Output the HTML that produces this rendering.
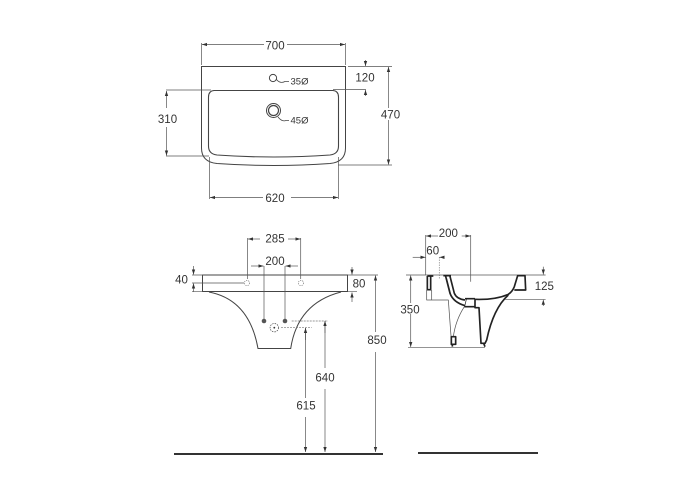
<!DOCTYPE html>
<html><head><meta charset="utf-8"><style>
html,body{margin:0;padding:0;background:#fff}
svg{display:block}
text{font-family:"Liberation Sans",sans-serif;font-size:11.5px;fill:#333;text-anchor:middle}
.s{font-size:9.5px}
</style></head><body>
<svg width="700" height="500" viewBox="0 0 700 500" xmlns="http://www.w3.org/2000/svg">
<defs>
<marker id="a" viewBox="0 0 6 6" refX="6" refY="3" markerWidth="5" markerHeight="5" orient="auto" markerUnits="userSpaceOnUse"><path d="M0 1L6 3L0 5Z" fill="#333"/></marker>
</defs>

<!-- top view -->
<g fill="none" stroke="#444" stroke-width="0.9">
<path d="M201.500 66.500H345.500V148Q345.500 162 330 163.500Q274 167.500 217 163.500Q201.500 162 201.500 148Z" stroke-width="1"/>
<path d="M214 90.500H333Q338.500 91 338.500 97V146Q338.500 154 330 155Q274 159 217 155Q208.500 154 208.500 146V97Q208.500 91 214 90.500Z" stroke-width="1.100"/>
<circle cx="273" cy="78" r="3.600" stroke-width="1"/>
<circle cx="273.500" cy="110.500" r="7" stroke-width="1"/>
<circle cx="273.500" cy="110.500" r="5" stroke-width="1.200"/>
<path d="M276.500 79.500Q280 84 285 81.500H289" stroke-width="0.800"/>
<path d="M278 117Q282 122 286 120.500H289" stroke-width="0.800"/>
</g>
<g fill="none" stroke="#555" stroke-width="0.7">
<path d="M201.500 43V65M345.500 43V65"/>
<path d="M348 66.500H392M333 89.500H366"/>
<path d="M338 165H392"/>
<path d="M166 90H211M166 156H209"/>
<path d="M209.500 157V199M338.500 157V199"/>
</g>
<g fill="none" stroke="#555" stroke-width="0.7" marker-end="url(#a)">
<path d="M264 44.500H202"/><path d="M287 44.500H345"/>
<path d="M365.500 60V66"/><path d="M365.500 96V90"/>
<path d="M388.500 108V67"/><path d="M388.500 120V164.500"/>
<path d="M166.500 108V91"/><path d="M166.500 127V155.500"/>
<path d="M263 197.500H210"/><path d="M291 197.500H338"/>
</g>
<text x="275" y="49.500">700</text>
<text x="365" y="81.500">120</text>
<text x="390.500" y="118.500">470</text>
<text x="167.500" y="123">310</text>
<text x="275" y="202">620</text>
<text class="s" x="299.500" y="84.500">35Ø</text>
<text class="s" x="299.500" y="123.500">45Ø</text>

<!-- front view -->
<g fill="none" stroke="#444" stroke-width="1">
<path d="M202.500 275H347.500V291.500H202.500Z"/>
<path d="M209 292C235 297 252 315 258 348.500H290.700C295 320 310 300 341 292"/>
</g>
<g fill="none" stroke="#777" stroke-width="0.7">
<circle cx="247" cy="283" r="2.600" stroke-dasharray="1.200 1"/>
<circle cx="301" cy="283" r="2.600" stroke-dasharray="1.200 1"/>
<circle cx="274.300" cy="327.700" r="4.200" stroke="#444" stroke-dasharray="1.500 1"/>
<path d="M291.700 321H328M281 327.700H311.700" stroke-dasharray="2 1"/>
</g>
<circle cx="264" cy="321" r="2.300" fill="#555"/>
<circle cx="285" cy="321" r="2.300" fill="#555"/>
<circle cx="274.300" cy="327.700" r="0.900" fill="#333"/>
<g fill="none" stroke="#555" stroke-width="0.7">
<path d="M247.500 238V279M300.700 238V279"/>
<path d="M264 266V319M285 266V319"/>
<path d="M192 275H203M192 283H244M192 291.700H203"/>
<path d="M348 275H378M348 291.700H357"/>
<path d="M305.500 328V398M325 321V368"/>
</g>
<g fill="none" stroke="#555" stroke-width="0.7" marker-end="url(#a)">
<path d="M260 239H248"/><path d="M288 239H300.500"/>
<path d="M251 266H263.500"/><path d="M298 266H285.500"/>
<path d="M193.500 266V274.500"/><path d="M193.500 292V283.500"/>
<path d="M352 267V274.500"/><path d="M352 302V292.500"/>
<path d="M375.500 332V275.500"/><path d="M375.500 352V452"/>
<path d="M305.500 417V452"/><path d="M325 389V452"/>
<path d="M305.500 340V328"/><path d="M325 333V321"/>
</g>
<text x="275" y="242.500">285</text>
<text x="275" y="265">200</text>
<text x="181.500" y="283.500">40</text>
<text x="359" y="287.500">80</text>
<text x="377" y="344">850</text>
<text x="325" y="381.500">640</text>
<text x="306" y="409.500">615</text>
<line x1="174" y1="454" x2="383" y2="454" stroke="#333" stroke-width="2"/>
<line x1="418" y1="453" x2="538" y2="453" stroke="#333" stroke-width="2"/>

<!-- section view -->
<g fill="none" stroke="#555" stroke-width="0.7">
<path d="M425.700 235V275M470.700 235V281.700"/>
<path d="M439.300 257V279" stroke="#888" stroke-dasharray="1.500 1"/>
<path d="M406 275H545.600"/>
<path d="M408 347.300H485"/>
<path d="M505 299.300H545.600"/>
</g>
<g fill="none" stroke="#555" stroke-width="0.7" marker-end="url(#a)">
<path d="M438 236H426"/><path d="M461.700 236H470.500"/>
<path d="M412.700 257.300H425.500"/><path d="M444 257.300H439.500"/>
<path d="M410.700 303V275.500"/><path d="M410.700 314V347"/>
<path d="M543.300 266.700V274.500"/><path d="M543.300 306V299.800"/>
</g>
<g transform="translate(425 265) scale(0.33333)" fill="none" stroke="#222" stroke-linejoin="round">
<g stroke="#555" stroke-width="2.200">
<path d="M5 75V105H70L80 240"/>
<path d="M20 75V105"/>
<path d="M118 125Q92 165 85 215"/>
<path d="M65 40L78 90"/>
</g>
<g stroke-width="5">
<path d="M7 33H25M7 33V74H17V33"/>
<path d="M55 32H78"/>
<path d="M62 34L75 85Q85 112 120 122"/>
<path d="M75 34L88 85Q95 102 120 105"/>
<path d="M120 101H150M118 125H150"/>
<path d="M150 103Q210 105 250 88Q262 80 268 65L278 32H300L302 75H268"/>
<path d="M150 103V128H162L168 235H180L185 225Q205 130 250 90"/>
<path d="M79 215H92V238H79Z"/>
<path d="M82 238V245M176 235L180 245"/>
</g>
<path d="M124 103L119 124" stroke-width="2.200"/>
</g>
<text x="448.300" y="237">200</text>
<text x="432.700" y="254.500">60</text>
<text x="544.300" y="290">125</text>
<text x="410" y="313.500">350</text>
</svg>
</body></html>
